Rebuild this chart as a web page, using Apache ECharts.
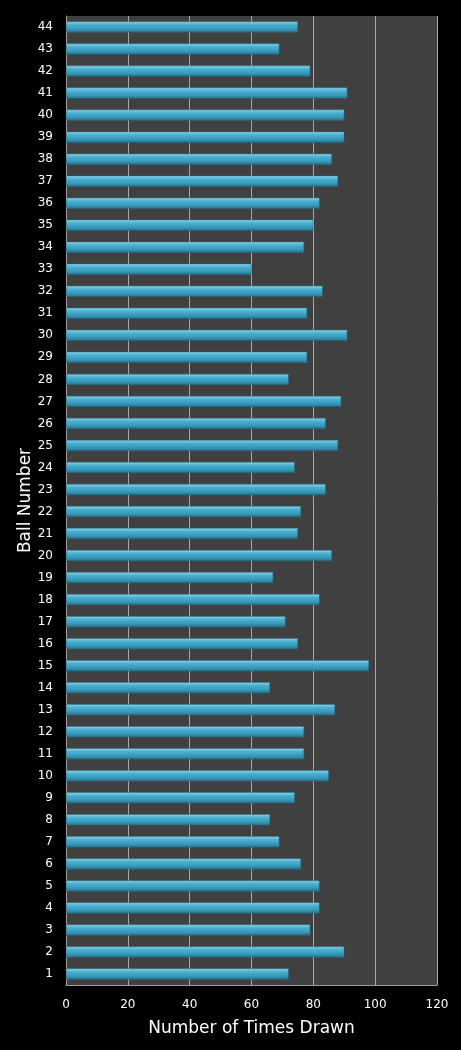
<!DOCTYPE html>
<html style="height: 100%">
<head>
    <meta charset="utf-8">
</head>
<body style="height: 100%; margin: 0; background: #000">
    <div id="main" style="width: 461px; height: 1050px"></div>
    <script src="https://cdn.jsdelivr.net/npm/echarts@6/dist/echarts.min.js"></script>
    <script type="text/javascript">
        // ball numbers, bottom to top
        var balls = [];
        for (var i = 1; i <= 44; i++) balls.push(String(i));

        var timesDrawn = [
            72, 90, 79, 82, 82, 76, 69, 66, 74, 85,
            77, 77, 87, 66, 98, 75, 71, 82, 67, 86,
            75, 76, 84, 74, 88, 84, 89, 72, 78, 91,
            78, 83, 60, 77, 80, 82, 88, 86, 90, 90,
            91, 79, 69, 75
        ];

        var xTicks = [0, 20, 40, 60, 80, 100, 120];

        var dom = document.getElementById('main');
        var myChart = echarts.init(dom, null, { renderer: 'canvas' });

        var option = {
            backgroundColor: '#000000',
            animation: false,
            grid: {
                left: 66,
                right: 24,
                top: 16,
                bottom: 65,
                show: true,
                backgroundColor: '#404040',
                borderWidth: 0
            },
            xAxis: {
                type: 'value',
                min: xTicks[0],
                max: xTicks[xTicks.length - 1],
                interval: 20,
                name: 'Number of Times Drawn',
                nameLocation: 'middle',
                nameGap: 35,
                nameMoveOverlap: false,
                nameTextStyle: { color: '#ffffff', fontSize: 17, fontFamily: 'DejaVu Sans' },
                axisLine: { show: true, lineStyle: { color: '#a0a0a0', width: 1 } },
                axisTick: { show: false },
                axisLabel: { color: '#ffffff', fontSize: 12, fontFamily: 'DejaVu Sans', margin: 14 },
                splitLine: { show: true, lineStyle: { color: '#a8a8a8', width: 1 } }
            },
            yAxis: {
                type: 'category',
                data: balls,
                name: 'Ball Number',
                nameLocation: 'middle',
                nameGap: 32,
                nameMoveOverlap: false,
                nameTextStyle: { color: '#ffffff', fontSize: 17, fontFamily: 'DejaVu Sans' },
                axisLine: { show: true, lineStyle: { color: '#a0a0a0', width: 1 } },
                axisTick: { show: false },
                axisLabel: { color: '#ffffff', fontSize: 12, fontFamily: 'DejaVu Sans', margin: 13 },
                splitLine: { show: false }
            },
            series: [
                {
                    name: 'Times Drawn',
                    type: 'bar',
                    data: timesDrawn,
                    barWidth: 11,
                    itemStyle: {
                        color: new echarts.graphic.LinearGradient(0, 0, 0, 1, [
                            { offset: 0, color: '#8fd8ee' },
                            { offset: 0.3, color: '#4cb0d0' },
                            { offset: 0.7, color: '#3699b9' },
                            { offset: 1, color: '#25708a' }
                        ]),
                        borderColor: '#2a6f86',
                        borderWidth: 0.5
                    }
                }
            ]
        };

        myChart.setOption(option);
        window.addEventListener('resize', myChart.resize);
    </script>
</body>
</html>
